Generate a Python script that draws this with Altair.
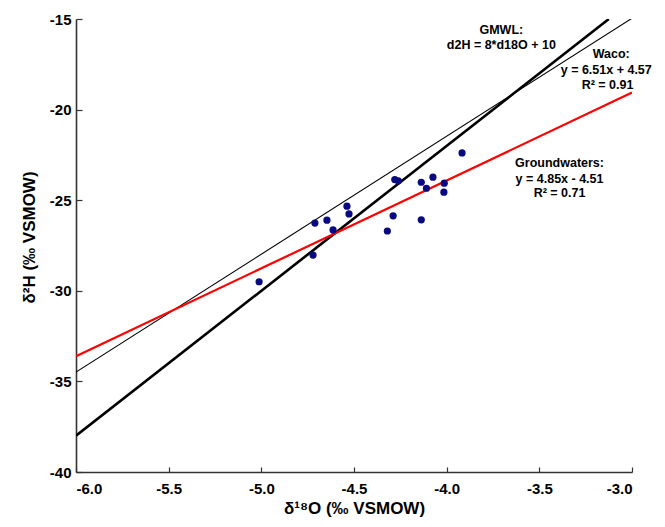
import altair as alt
import pandas as pd

# Sample points (d18O, d2H)
d18o = [-3.917, -4.280, -4.261, -4.137, -4.074, -4.013, -4.109, -4.015, -4.538,
        -4.527, -4.711, -4.646, -4.289, -4.137, -4.320, -4.613, -4.721, -5.012]
d2h = [-22.39, -23.86, -23.93, -24.01, -23.73, -24.06, -24.34, -24.56, -25.33,
       -25.76, -26.26, -26.10, -25.86, -26.08, -26.70, -26.64, -28.03, -29.50]

# Line endpoints
line_names = ["GMWL", "GMWL", "Waco", "Waco", "Groundwaters", "Groundwaters"]
line_x = [-6.0, -3.125, -6.0, -3.0, -6.0, -3.0]
line_y = [-38.0, -15.0, -34.49, -14.96, -33.61, -19.06]
line_colors = {"GMWL": "#000000", "Waco": "#000000", "Groundwaters": "#ff0000"}
line_widths = {"GMWL": 2.6, "Waco": 1.1, "Groundwaters": 2.2}

# Annotations
ann_text = ["GMWL:", "d2H = 8*d18O + 10", "Waco:", "y = 6.51x + 4.57", "R\u00b2 = 0.91",
            "Groundwaters:", "y = 4.85x - 4.51", "R\u00b2 = 0.71"]
ann_x = [-3.705, -3.705, -3.112, -3.139, -3.132, -3.391, -3.391, -3.391]
ann_y = [-15.59, -16.42, -16.91, -17.82, -18.62, -22.94, -23.82, -24.59]

x_ticks = [-6.0, -5.5, -5.0, -4.5, -4.0, -3.5, -3.0]
y_ticks = [-40, -35, -30, -25, -20, -15]

FONT = "Liberation Sans"

pts = pd.DataFrame({"x": d18o, "y": d2h})
lines = pd.DataFrame({"series": line_names, "x": line_x, "y": line_y})
lines["color"] = lines["series"].map(line_colors)
lines["width"] = lines["series"].map(line_widths)
ann = pd.DataFrame({"t": ann_text, "x": ann_x, "y": ann_y})

xscale = alt.Scale(domain=[-6.0, -3.0], nice=False, zero=False)
yscale = alt.Scale(domain=[-40, -15], nice=False, zero=False)

main_x_axis = alt.Axis(orient="bottom", values=x_ticks, ticks=False,
                       labelExpr="(datum.value < 0 ? '-' : '') + format(abs(datum.value), '.1f')",
                       grid=False, domain=True, domainColor="#333333", domainWidth=1.6,
                       labelFont=FONT, labelFontSize=15, labelFontWeight="bold",
                       labelColor="#000000", labelPadding=9,
                       title="\u03b4\u00b9\u2078O (\u2030 VSMOW)", titleFont=FONT,
                       titleFontSize=17, titleFontWeight="bold", titleColor="#000000",
                       titleY=28, titleBaseline="top")
main_y_axis = alt.Axis(orient="left", values=y_ticks, ticks=False,
                       labelExpr="(datum.value < 0 ? '-' : '') + format(abs(datum.value), 'd')",
                       grid=False, domain=True, domainColor="#333333", domainWidth=1.6,
                       labelFont=FONT, labelFontSize=15, labelFontWeight="bold",
                       labelColor="#000000", labelPadding=5,
                       title="\u03b4\u00b2H (\u2030 VSMOW)", titleFont=FONT,
                       titleFontSize=17, titleFontWeight="bold", titleColor="#000000",
                       titleX=-38, titleY=218, titleAngle=-90, titleBaseline="bottom")

tick_x_axis = alt.Axis(orient="bottom", values=x_ticks, labels=False, domain=False,
                       grid=False, ticks=True, tickSize=5, offset=-5,
                       tickColor="#333333", tickWidth=1.2, title=None)
tick_y_axis = alt.Axis(orient="left", values=y_ticks, labels=False, domain=False,
                       grid=False, ticks=True, tickSize=6, offset=-6,
                       tickColor="#333333", tickWidth=1.2, title=None)

line_layer = alt.Chart(lines).mark_line(clip=True).encode(
    x=alt.X("x:Q", scale=xscale, axis=tick_x_axis),
    y=alt.Y("y:Q", scale=yscale, axis=tick_y_axis),
    detail="series:N",
    color=alt.Color("color:N", scale=None),
    strokeWidth=alt.StrokeWidth("width:Q", scale=None),
)

point_layer = alt.Chart(pts).mark_circle(size=52, opacity=1, color="#0a0a80").encode(
    x=alt.X("x:Q", scale=xscale, axis=main_x_axis),
    y=alt.Y("y:Q", scale=yscale, axis=main_y_axis),
)

text_layer = alt.Chart(ann).mark_text(font=FONT, fontSize=12.5, fontWeight="bold",
                                      color="#000000", align="center",
                                      baseline="middle").encode(
    x=alt.X("x:Q", scale=xscale, axis=None),
    y=alt.Y("y:Q", scale=yscale, axis=None),
    text="t:N",
)

chart = alt.layer(line_layer, point_layer, text_layer).resolve_axis(
    x="independent", y="independent"
).properties(
    width=556, height=453,
    autosize=alt.AutoSizeParams(type="none"),
    padding={"left": 68, "top": 11, "right": 20, "bottom": 55},
).configure_view(stroke=None)

chart.save("out.html", embed_options={"renderer": "svg", "actions": False})
